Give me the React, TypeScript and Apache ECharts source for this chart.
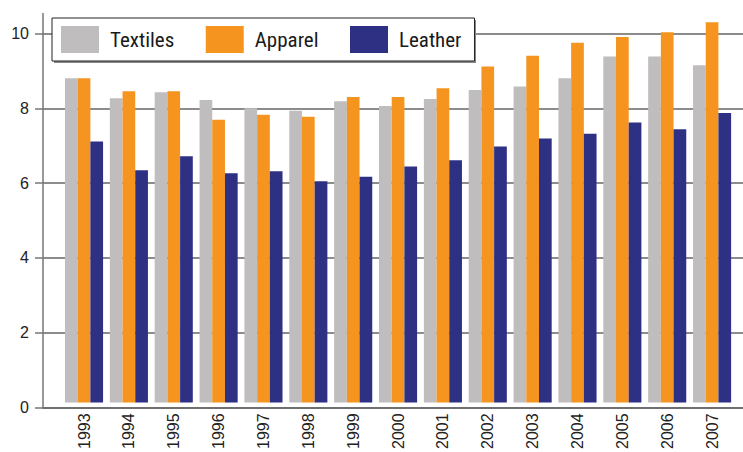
import React, { useEffect, useRef } from "react";
import * as echarts from "echarts";

const years = ["1993","1994","1995","1996","1997","1998","1999","2000","2001","2002","2003","2004","2005","2006","2007"];
const textiles = [8.78, 8.24, 8.40, 8.19, 7.97, 7.90, 8.16, 8.03, 8.22, 8.46, 8.56, 8.78, 9.37, 9.37, 9.13];
const apparel = [8.78, 8.43, 8.43, 7.66, 7.79, 7.74, 8.27, 8.27, 8.51, 9.10, 9.39, 9.74, 9.90, 10.03, 10.30];
const leather = [7.07, 6.29, 6.67, 6.21, 6.26, 5.99, 6.11, 6.39, 6.56, 6.93, 7.15, 7.28, 7.58, 7.40, 7.84];
const yTicks = { min: 0, max: 10, interval: 2 };

export default function App() {
  const ref = useRef<HTMLDivElement>(null);
  useEffect(() => {
    if (!ref.current) return;
    const chart = echarts.init(ref.current, null, { renderer: "svg" });
    const gridTop = 33.5;
    const gridBottom = 44.5;
    const unitPx = (452 - gridTop - gridBottom) / (yTicks.max - yTicks.min);
    const barMax = 10.5;
    const legendFont = "'Liberation Sans Narrow', 'Roboto Condensed', 'DejaVu Sans Condensed', Roboto, sans-serif";
    const axisFont = "'Liberation Sans', Arial, sans-serif";
    const barStyle = (color: string) => ({ color });
    chart.setOption({
      animation: false,
      backgroundColor: "#ffffff",
      grid: [
        { left: 43, right: 0, top: gridTop, bottom: gridBottom },
        { left: 61.6, right: 8.5, top: gridTop - unitPx * (barMax - yTicks.max), bottom: gridBottom },
      ],
      xAxis: [
        {
          gridIndex: 0, type: "category", data: years,
          axisLine: { show: true, lineStyle: { color: "#666", width: 1.5 } },
          axisTick: { show: false }, axisLabel: { show: false }, splitLine: { show: false },
        },
        {
          gridIndex: 1, type: "category", data: years,
          axisLine: { show: false }, axisTick: { show: false },
          axisLabel: { rotate: 90, margin: 11, fontSize: 16, color: "#222", fontFamily: axisFont },
        },
      ],
      yAxis: [
        {
          gridIndex: 0, type: "value", min: yTicks.min, max: yTicks.max, interval: yTicks.interval,
          axisLine: { show: true, lineStyle: { color: "#777", width: 1.5 } },
          axisTick: { show: true, length: 8, lineStyle: { color: "#777", width: 1.5 } },
          axisLabel: { margin: 14, fontSize: 16, color: "#222", fontFamily: axisFont },
          splitLine: { show: true, lineStyle: { color: "#666", width: 1.5 } },
        },
        {
          gridIndex: 1, type: "value", min: yTicks.min, max: barMax,
          show: false,
        },
      ],
      legend: {
        left: 52, top: 18,
        padding: [8, 13, 8, 9],
        itemWidth: 38, itemHeight: 27, itemGap: 31.5,
        icon: "rect",
        backgroundColor: "#ffffff", borderColor: "#222", borderWidth: 1,
        textStyle: { fontSize: 21, fontFamily: legendFont, color: "#1a1a1a", width: 67, padding: [0, 0, 0, 6] },
        data: ["Textiles", "Apparel", "Leather"],
      },
      graphic: [
        { type: "rect", z: 1, shape: { x: 54, y: 20, width: 422, height: 43 }, style: { fill: "#888" } },
        { type: "line", z: 1, shape: { x1: 43, y1: 13, x2: 43, y2: 34 }, style: { stroke: "#777", lineWidth: 1.5 } },
      ],
      series: [
        { name: "Textiles", type: "bar", xAxisIndex: 1, yAxisIndex: 1, data: textiles, barWidth: 12.7, barGap: "0%", itemStyle: barStyle("#bfbdbe") },
        { name: "Apparel", type: "bar", xAxisIndex: 1, yAxisIndex: 1, data: apparel, barWidth: 12.7, barGap: "0%", itemStyle: barStyle("#f69420") },
        { name: "Leather", type: "bar", xAxisIndex: 1, yAxisIndex: 1, data: leather, barWidth: 12.7, barGap: "0%", itemStyle: barStyle("#2e3084") },
      ],
    });
    return () => chart.dispose();
  }, []);
  return <div ref={ref} style={{ position: "fixed", left: 0, top: 0, width: 743, height: 452 }} />;
}
